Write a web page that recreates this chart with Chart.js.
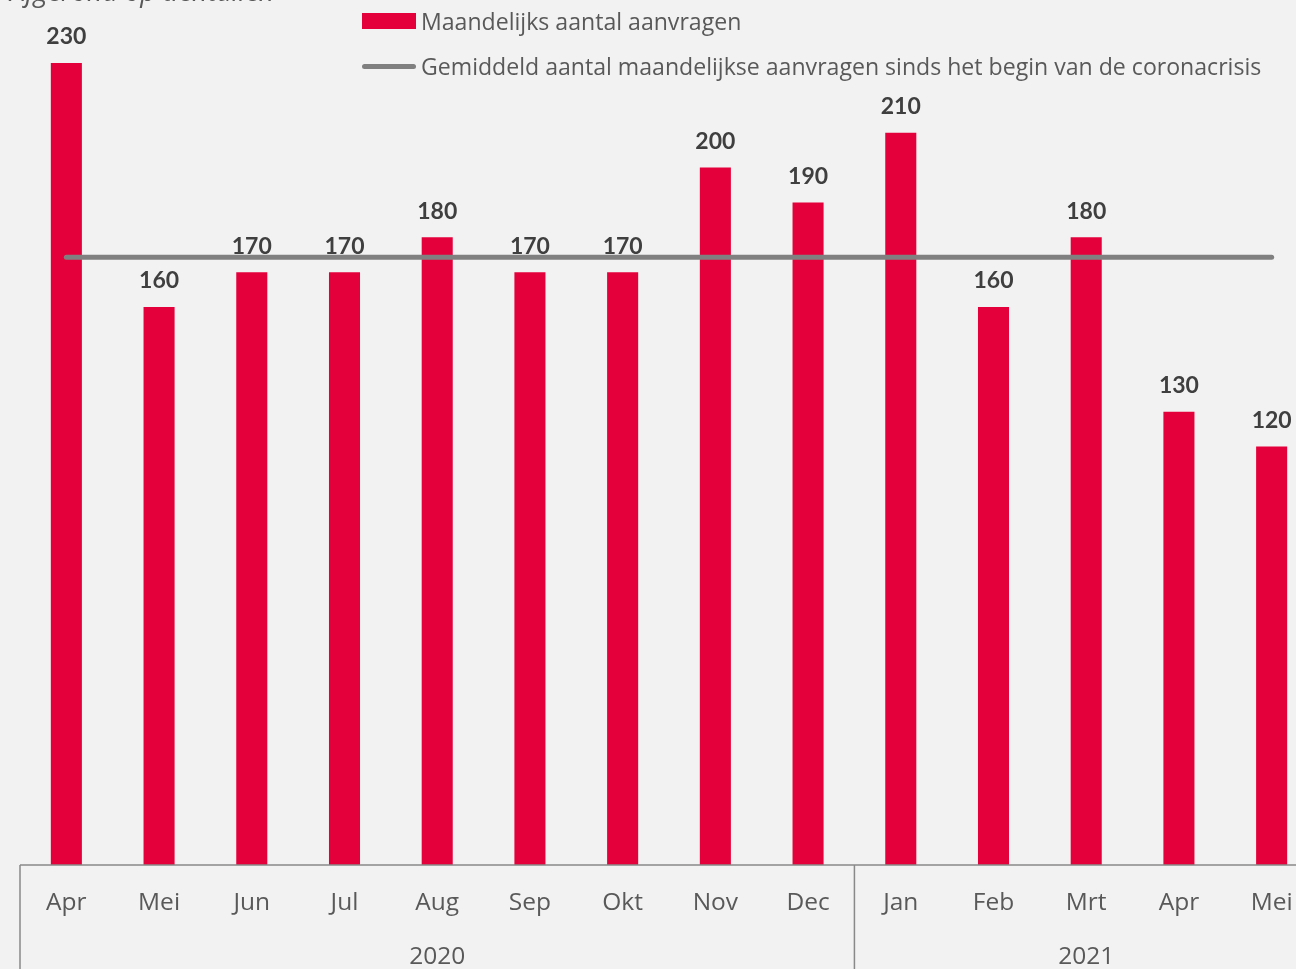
<!DOCTYPE html>
<html>
<head>
<meta charset="utf-8">
<script src="https://cdn.jsdelivr.net/npm/chart.js@4"></script>
<style>
  html, body { margin: 0; padding: 0; background: #f2f2f2; overflow: hidden; }
  #wrap { position: relative; width: 1296px; height: 969px; overflow: hidden; }
  #chart { position: absolute; left: 0; top: 0; }
  .note { position: absolute; left: 10px; top: -28px; font: italic 27px "Open Sans", sans-serif; color: #595959; white-space: nowrap; }
  .legend { position: absolute; left: 362px; font: 23.1px "Open Sans", sans-serif; color: #595959; white-space: nowrap; display: flex; align-items: center; }
  .legend .box { width: 54px; height: 16px; background: #e4003a; margin-right: 5px; }
  .legend .ln { width: 54px; height: 5px; background: #808080; border-radius: 3px; margin-right: 5px; }
</style>
</head>
<body>
<div id="wrap">
  <canvas id="chart" width="1318" height="969"></canvas>
  <div class="note">Afgerond op tientallen</div>
  <div class="legend" style="top:5px"><span class="box"></span>Maandelijks aantal aanvragen</div>
  <div class="legend" style="top:50px"><span class="ln"></span>Gemiddeld aantal maandelijkse aanvragen sinds het begin van de coronacrisis</div>
</div>
<script>
// data
const months = ['Apr', 'Mei', 'Jun', 'Jul', 'Aug', 'Sep', 'Okt', 'Nov', 'Dec', 'Jan', 'Feb', 'Mrt', 'Apr', 'Mei'];
const aanvragen = [230, 160, 170, 170, 180, 170, 170, 200, 190, 210, 160, 180, 130, 120];
const gemiddelde = 174.3;
const years = [
  { label: '2020', from: 0, to: 8 },
  { label: '2021', from: 9, to: 13 }
];

const axisColor = '#898989';
const textColor = '#595959';

// value labels above bars
const valueLabels = {
  id: 'valueLabels',
  afterDatasetsDraw(chart) {
    const ctx = chart.ctx;
    const meta = chart.getDatasetMeta(1);
    ctx.save();
    ctx.font = 'bold 23px Lato, sans-serif';
    ctx.fillStyle = '#3f3f3f';
    ctx.textAlign = 'center';
    ctx.textBaseline = 'middle';
    meta.data.forEach((bar, i) => {
      ctx.fillText(aanvragen[i], bar.x, bar.y - 26);
    });
    ctx.restore();
  }
};

// axis box + year groups
const yearAxis = {
  id: 'yearAxis',
  afterDraw(chart) {
    const ctx = chart.ctx;
    const x = chart.scales.x;
    const bottom = chart.chartArea.bottom;
    const step = x.getPixelForValue(1) - x.getPixelForValue(0);
    ctx.save();
    ctx.strokeStyle = axisColor;
    ctx.lineWidth = 1.5;
    ctx.beginPath();
    ctx.moveTo(chart.chartArea.left, bottom);
    ctx.lineTo(chart.width, bottom);
    years.forEach(y => {
      const left = x.getPixelForValue(y.from) - step / 2;
      ctx.moveTo(left, bottom);
      ctx.lineTo(left, chart.height);
    });
    ctx.stroke();
    ctx.font = '24.5px "Open Sans", sans-serif';
    ctx.fillStyle = textColor;
    ctx.textAlign = 'center';
    ctx.textBaseline = 'middle';
    years.forEach(y => {
      const mid = (x.getPixelForValue(y.from) + x.getPixelForValue(y.to)) / 2;
      ctx.fillText(y.label, mid, bottom + 92);
    });
    ctx.restore();
  }
};

new Chart(document.getElementById('chart'), {
  data: {
    labels: months,
    datasets: [
      {
        type: 'line',
        label: 'Gemiddeld aantal maandelijkse aanvragen sinds het begin van de coronacrisis',
        data: months.map(() => gemiddelde),
        borderColor: '#808080',
        borderWidth: 5,
        borderCapStyle: 'round',
        pointRadius: 0,
        order: 0
      },
      {
        type: 'bar',
        label: 'Maandelijks aantal aanvragen',
        data: aanvragen,
        backgroundColor: '#e4003a',
        barPercentage: 0.335,
        categoryPercentage: 1,
        order: 1
      }
    ]
  },
  options: {
    responsive: false,
    animation: false,
    layout: { padding: { top: 28, left: 20, right: 0, bottom: 0 } },
    plugins: { legend: { display: false }, tooltip: { enabled: false } },
    scales: {
      x: {
        grid: { display: false },
        border: { display: false },
        ticks: { color: textColor, font: { family: '"Open Sans", sans-serif', size: 24.5 }, padding: 15 },
        afterFit(scale) { scale.height = 104; }
      },
      y: { display: false, min: 0, max: 240 }
    }
  },
  plugins: [valueLabels, yearAxis]
});
</script>
</body>
</html>
